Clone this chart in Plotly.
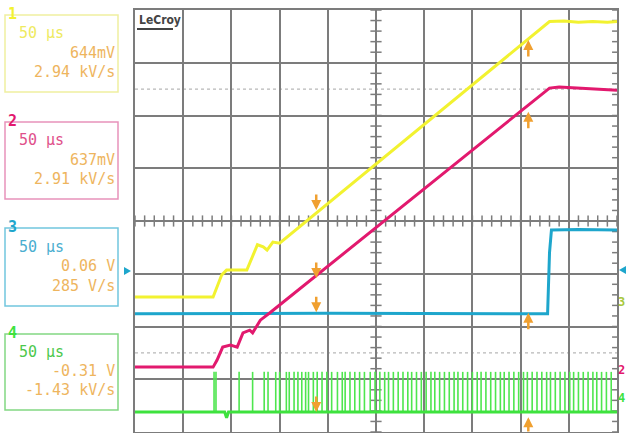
import plotly.graph_objects as go

# ---------------------------------------------------------------------------
# Data (time in us, amplitude in screen divisions, 0 = bottom of grid)
# ---------------------------------------------------------------------------

ch1_t = [0, 81, 90, 95, 116, 127, 133, 137, 143, 150, 430, 445, 460, 475, 490, 500]
ch1_y = [2.56, 2.56, 2.98, 3.07, 3.07, 3.55, 3.51, 3.45, 3.60, 3.58, 7.78, 7.79, 7.77, 7.78, 7.77, 7.78]

ch2_t = [0, 81, 85, 91, 99, 106, 112, 119, 122, 130, 140, 430, 440, 460, 480, 500]
ch2_y = [1.23, 1.23, 1.36, 1.61, 1.65, 1.61, 1.88, 1.93, 1.88, 2.12, 2.26, 6.52, 6.54, 6.52, 6.50, 6.48]

ch3_t = [0, 200, 428, 430, 432, 460, 500]
ch3_y = [2.24, 2.25, 2.24, 3.40, 3.83, 3.84, 3.83]

ch4_t = [0, 93, 95, 97, 500]
ch4_y = [0.38, 0.38, 0.27, 0.38, 0.38]
ch4_base = 0.38
ch4_top = 1.14
ch4_pulses = [
    82, 84, 108, 122, 134, 138, 146, 150, 157, 160, 165, 169, 173, 177, 180,
    185, 189, 194, 199, 204, 210, 215, 218, 223, 228, 233, 238, 244, 249,
    254, 259, 263, 268, 273, 278, 283, 287, 292, 297, 302, 307, 311, 316,
    321, 326, 331, 335, 340, 345, 350, 355, 359, 364, 369, 374, 379, 383,
    388, 393, 398, 403, 407, 412, 417, 422, 427, 431, 436, 441, 446, 451,
    455, 460, 465, 470, 475, 479, 484, 489, 494,
]

# cursor markers: (time, tip level) per channel
cursor_down_t = 188
cursor_down_y = [4.21, 2.92, 2.27, 0.38]
cursor_up_t = 408
cursor_up_y = [7.43, 6.07, 2.26, 0.28]

# channel readouts
ch_names = ["1", "2", "3", "4"]
ch_timebase = ["50 µs", "50 µs", "50 µs", "50 µs"]
ch_level = ["644mV", "637mV", "0.06 V", "-0.31 V"]
ch_slope = ["2.94 kV/s", "2.91 kV/s", "285 V/s", "-1.43 kV/s"]

# ---------------------------------------------------------------------------
# Styling
# ---------------------------------------------------------------------------

W, H = 626, 433
TRACE = ["#f2f230", "#e2196e", "#1ea6cc", "#3ee23e"]
LABEL = ["#eeea60", "#e0508a", "#4aaed0", "#4cc84c"]
BOX = ["#f0f0a0", "#e892ba", "#72c6de", "#82d882"]
VALUE = "#eeb55e"
GRID = "#7c7c7c"
CURSOR = "#f0a030"
MONO = "DejaVu Sans Mono"

# box layout in pixels (top, bottom)
box_rows = [(15, 92), (122, 199), (228, 306), (334, 410)]


def px(x):
    return x / W


def py(y):
    return 1 - y / H


fig = go.Figure()

# centre-line graticule ticks
tick_y = [i * 0.2 for i in range(41)]
tick_x = [i * 10 for i in range(51)]
fig.add_trace(go.Scatter(x=[250] * len(tick_y), y=tick_y, mode="markers",
                         marker=dict(symbol="line-ew", size=8, line=dict(color=GRID, width=1.5)),
                         hoverinfo="skip", showlegend=False))
fig.add_trace(go.Scatter(x=tick_x, y=[4] * len(tick_x), mode="markers",
                         marker=dict(symbol="line-ns", size=8, line=dict(color=GRID, width=1.5)),
                         hoverinfo="skip", showlegend=False))
fig.add_trace(go.Scatter(x=[498.5] * len(tick_y), y=tick_y, mode="markers",
                         marker=dict(symbol="line-ew", size=5, line=dict(color=GRID, width=1.5)),
                         hoverinfo="skip", showlegend=False))

# ch4 pulses
sx, sy = [], []
for t in ch4_pulses:
    sx += [t, t, None]
    sy += [ch4_base, ch4_top, None]
fig.add_trace(go.Scatter(x=sx, y=sy, mode="lines", line=dict(color="#4ee64e", width=1.6),
                         hoverinfo="skip", showlegend=False))
fig.add_trace(go.Scatter(x=ch4_t, y=ch4_y, mode="lines", line=dict(color=TRACE[3], width=3),
                         name="C4", showlegend=False))
fig.add_trace(go.Scatter(x=ch3_t, y=ch3_y, mode="lines", line=dict(color=TRACE[2], width=3),
                         name="C3", showlegend=False))
fig.add_trace(go.Scatter(x=ch2_t, y=ch2_y, mode="lines", line=dict(color=TRACE[1], width=3),
                         name="C2", showlegend=False))
fig.add_trace(go.Scatter(x=ch1_t, y=ch1_y, mode="lines", line=dict(color=TRACE[0], width=3),
                         name="C1", showlegend=False))

# dotted reference lines
for lvl in [1.5, 6.5]:
    fig.add_shape(type="line", xref="x", yref="y", x0=0, x1=500, y0=lvl, y1=lvl,
                  line=dict(color="#b8b8b8", width=1.2, dash="dot"), layer="below")

# cursor arrows
for yv in cursor_down_y:
    fig.add_annotation(x=cursor_down_t, y=yv, ax=0, ay=-17, showarrow=True, arrowhead=2,
                       arrowsize=0.8, arrowwidth=2.5, arrowcolor=CURSOR, text="")
for yv in cursor_up_y:
    fig.add_annotation(x=cursor_up_t, y=yv, ax=0, ay=18, showarrow=True, arrowhead=2,
                       arrowsize=0.8, arrowwidth=2.5, arrowcolor=CURSOR, text="")

# channel readout boxes
for i, (top, bot) in enumerate(box_rows):
    fig.add_shape(type="rect", xref="paper", yref="paper", x0=px(5), x1=px(118),
                  y0=py(bot), y1=py(top), line=dict(color=BOX[i], width=1.5))
    row = (bot - top) / 4
    fig.add_annotation(xref="paper", yref="paper", x=px(17), y=py(top + row * 0.95),
                       text=ch_timebase[i], showarrow=False, xanchor="left", yanchor="middle",
                       font=dict(family=MONO, size=15, color=LABEL[i]))
    fig.add_annotation(xref="paper", yref="paper", x=px(117), y=py(top + row * 1.95),
                       text=ch_level[i], showarrow=False, xanchor="right", yanchor="middle",
                       font=dict(family=MONO, size=15, color=VALUE))
    fig.add_annotation(xref="paper", yref="paper", x=px(117), y=py(top + row * 2.95),
                       text=ch_slope[i], showarrow=False, xanchor="right", yanchor="middle",
                       font=dict(family=MONO, size=15, color=VALUE))
    fig.add_annotation(xref="paper", yref="paper", x=px(6), y=py(top - 1),
                       text="<b>" + ch_names[i] + "</b>", showarrow=False, xanchor="left",
                       yanchor="middle", font=dict(family=MONO, size=15, color=TRACE[i]))

# right-side channel offset labels
for txt, yy, col in [("3", 302, "#a8c840"), ("2", 370, TRACE[1]), ("4", 398, TRACE[3])]:
    fig.add_annotation(xref="paper", yref="paper", x=px(617), y=py(yy), text="<b>" + txt + "</b>",
                       showarrow=False, xanchor="left", yanchor="middle", borderpad=0,
                       font=dict(family=MONO, size=12, color=col))

# trigger level markers
fig.add_shape(type="path", xref="paper", yref="paper",
              path=f"M {px(124)} {py(267)} L {px(131)} {py(271)} L {px(124)} {py(275)} Z",
              fillcolor=TRACE[2], line=dict(width=0))
fig.add_shape(type="path", xref="paper", yref="paper",
              path=f"M {px(626)} {py(266)} L {px(619)} {py(270)} L {px(626)} {py(274)} Z",
              fillcolor=TRACE[2], line=dict(width=0))

# LeCroy badge
fig.add_annotation(xref="paper", yref="paper", x=px(137), y=py(20), text="<b>LeCroy</b>",
                   showarrow=False, xanchor="left", yanchor="middle",
                   font=dict(family="DejaVu Sans Condensed", size=12, color="#444444"))
fig.add_shape(type="line", xref="paper", yref="paper", x0=px(137), x1=px(173),
              y0=py(29), y1=py(29), line=dict(color="#444444", width=2))

axis_common = dict(showgrid=True, gridcolor=GRID, gridwidth=1.5, zeroline=False,
                   showticklabels=False, ticks="", showline=True, linecolor=GRID,
                   linewidth=2, mirror=True, fixedrange=True)

fig.update_layout(
    width=W,
    height=H,
    margin=dict(l=0, r=0, t=0, b=0),
    paper_bgcolor="white",
    plot_bgcolor="white",
    showlegend=False,
    xaxis=dict(range=[0, 500], dtick=50, domain=[px(135), px(617)], **axis_common),
    yaxis=dict(range=[0, 8], dtick=1, domain=[py(432), py(10)], **axis_common),
)

# drop the browser's default body margin so the figure fills the window
fig.write_html("out.html", config={"displayModeBar": False},
               post_script="document.body.style.margin='0px';")
